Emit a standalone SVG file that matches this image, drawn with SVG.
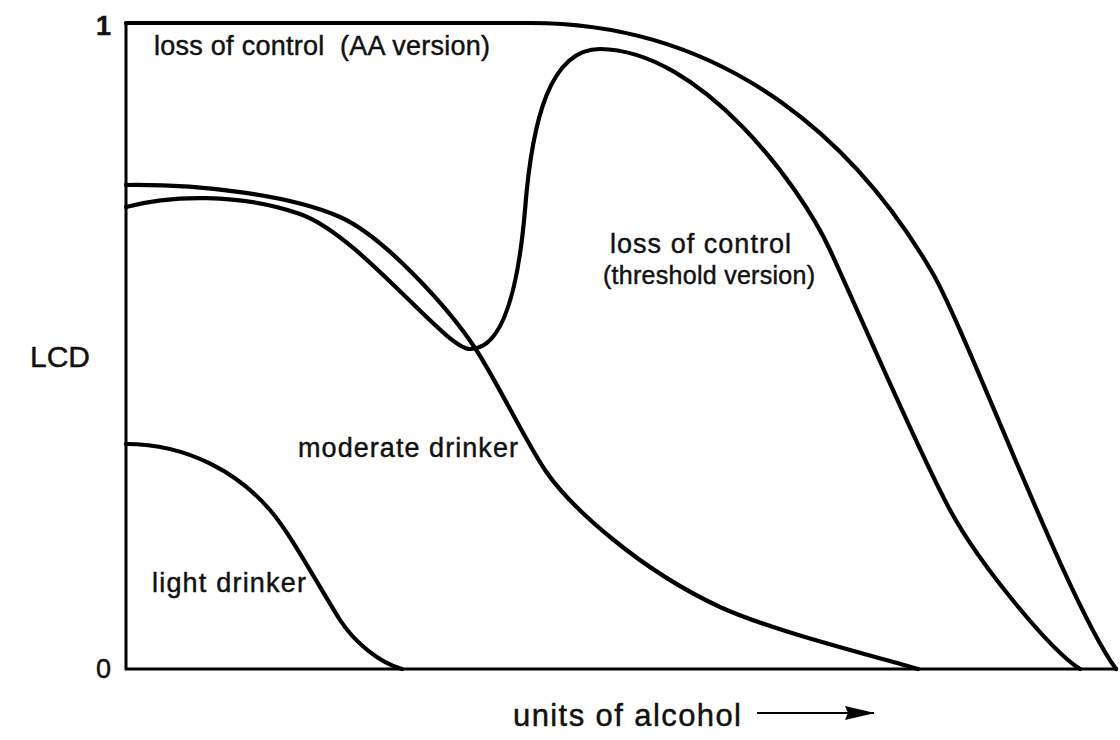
<svg xmlns="http://www.w3.org/2000/svg" width="1120" height="740" viewBox="0 0 1120 740">
<style>
.lbl{font-family:"Liberation Sans",Arial,sans-serif;font-size:27px;fill:#111;stroke:#111;stroke-width:0.45}
.curve{fill:none;stroke:#000;stroke-width:4.2;stroke-linecap:round;stroke-linejoin:round}
.axis{fill:none;stroke:#000;stroke-width:3}
</style>
<defs>
<marker id="ah" markerWidth="30" markerHeight="16" refX="29" refY="8" orient="auto" markerUnits="userSpaceOnUse">
<path d="M0,1 L30,8 L0,15 L3,8 Z" fill="#000"/>
</marker>
</defs>
<rect width="1120" height="740" fill="#fff"/>
<g id="axes">
<line class="axis" x1="126" y1="22" x2="126" y2="670"/>
<line class="axis" x1="125" y1="669" x2="1118" y2="669" stroke-width="2.6"/>
<text class="lbl" x="96" y="35" style="font-size:27px;font-weight:bold">1</text>
<text class="lbl" x="96" y="678" style="font-size:27px">0</text>
<text class="lbl" x="30" y="367" style="font-size:30px">LCD</text>
</g>
<g id="connectors">
<path id="aa-curve" class="curve" d="M126,23 L530,23 C735,23 862,152 932,272 C967,332 1066,600 1116,669"/>
<path id="threshold-curve" class="curve" d="M126,207 C170,195 240,193 300,214 C360,235 445,349 470,349 C505,350 519,280 525,210 C532,120 550,49 600,49 C700,50 800,185 830,250 C860,315 920,455 950,510 C980,565 1050,650 1080,669"/>
<path id="moderate-curve" class="curve" d="M126,185 C200,184 290,195 340,217 C385,237 450,310 475,348 C495,378 525,440 545,470 C570,507 640,570 720,607 C770,630 870,655 918,669"/>
<path id="light-curve" class="curve" d="M126,444 C190,444 240,475 270,510 C290,533 315,580 340,620 C355,643 380,663 402,669"/>
<line id="x-arrow" x1="757" y1="713" x2="874" y2="713" stroke="#000" stroke-width="2.2" marker-end="url(#ah)"/>
</g>
<g id="label-aa"><text class="lbl" x="154" y="55" textLength="336" lengthAdjust="spacing">loss of control&#160; (AA version)</text></g>
<g id="label-threshold">
<text class="lbl" x="610" y="253" textLength="181" lengthAdjust="spacing">loss of control</text>
<text class="lbl" x="603" y="284" style="font-size:25px" textLength="212" lengthAdjust="spacing">(threshold version)</text>
</g>
<g id="label-moderate"><text class="lbl" x="298" y="457" textLength="220" lengthAdjust="spacing">moderate drinker</text></g>
<g id="label-light"><text class="lbl" x="152" y="592" textLength="154" lengthAdjust="spacing">light drinker</text></g>
<g id="label-x"><text class="lbl" x="513" y="726" style="font-size:31px" textLength="228" lengthAdjust="spacing">units of alcohol</text></g>
</svg>
